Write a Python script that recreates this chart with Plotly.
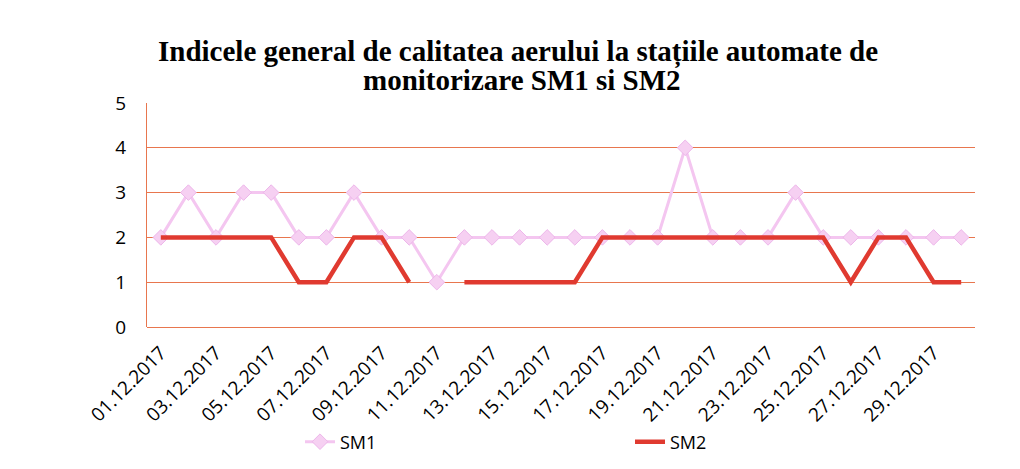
import plotly.graph_objects as go

dates = [f"{d:02d}.12.2017" for d in range(1, 31)]
sm1 = [2, 3, 2, 3, 3, 2, 2, 3, 2, 2, 1, 2, 2, 2, 2,
       2, 2, 2, 2, 4, 2, 2, 2, 3, 2, 2, 2, 2, 2, 2]
sm2 = [2, 2, 2, 2, 2, 1, 1, 2, 2, 1, None, 1, 1, 1, 1,
       1, 2, 2, 2, 2, 2, 2, 2, 2, 2, 1, 2, 2, 1, 1]
tick_labels = dates[::2]
title_lines = ["Indicele general de calitatea aerului la stațiile automate de",
               "monitorizare SM1 si SM2"]

# figure is offset by the browser's default 8px body margin
W, H = 1012, 461
L, T = 139, 95
PW, PH = 828, 224

fig = go.Figure()
fig.add_trace(go.Scatter(
    x=dates, y=sm1, name="SM1", mode="lines+markers",
    line=dict(color="#F4C6F0", width=3),
    marker=dict(symbol="diamond", size=12, color="#F6D0F2",
                line=dict(color="#EDB6EA", width=1)),
))
fig.add_trace(go.Scatter(
    x=dates, y=sm2, name="SM2", mode="lines",
    line=dict(color="#E03A30", width=4.5),
    connectgaps=False,
))

def py(yfig):
    return 1 + (T - yfig) / PH

def px(xfig):
    return (xfig - L) / PW

annotations = [
    dict(text=f"<b>{title_lines[0]}</b>", x=px(510), y=py(44), xref="paper", yref="paper",
         xanchor="center", yanchor="middle", showarrow=False,
         font=dict(family="Liberation Serif", size=29, color="black")),
    dict(text=f"<b>{title_lines[1]}</b>", x=px(514), y=py(72), xref="paper", yref="paper",
         xanchor="center", yanchor="middle", showarrow=False,
         font=dict(family="Liberation Serif", size=29, color="black")),
]

fig.update_layout(
    width=W, height=H,
    paper_bgcolor="white", plot_bgcolor="white",
    margin=dict(l=L, r=W - L - PW, t=T, b=H - T - PH, autoexpand=False),
    font=dict(family="Open Sans", color="black"),
    showlegend=True,
    annotations=annotations,
    legend=dict(orientation="h", x=px(292), xanchor="left", y=py(434), yanchor="middle",
                entrywidth=285, font=dict(size=18, family="Open Sans")),
)
fig.update_xaxes(
    type="category", tickmode="array", tickvals=tick_labels, ticktext=tick_labels,
    tickangle=-45, tickfont=dict(size=19, family="Open Sans"),
    showgrid=False, showline=False, ticks="", range=[-0.5, 29.5],
    automargin=False, ticklabelstandoff=10,
)
fig.update_yaxes(
    range=[0, 5], dtick=1, tickfont=dict(size=19, family="Open Sans"),
    showgrid=True, gridcolor="#E8764E", gridwidth=1,
    showline=True, linecolor="#E8764E", linewidth=1,
    zeroline=True, zerolinecolor="#E8764E", zerolinewidth=1,
    ticks="", ticklabelstandoff=16, automargin=False,
)
fig.write_html("out.html")
